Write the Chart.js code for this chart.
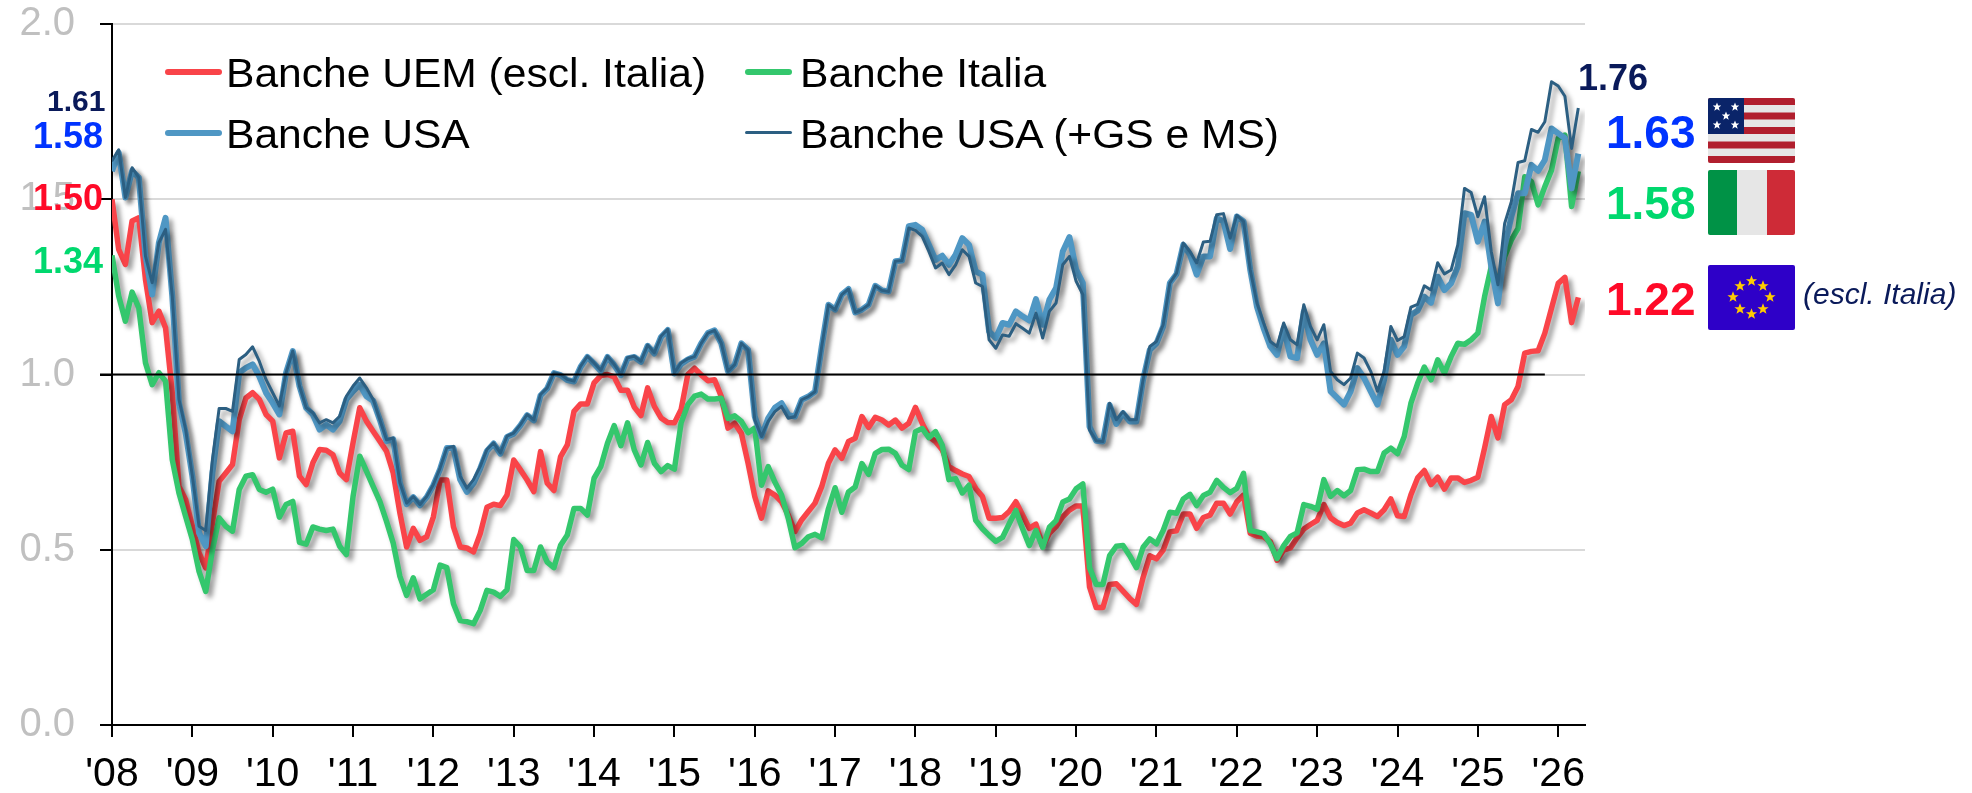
<!DOCTYPE html>
<html>
<head>
<meta charset="utf-8">
<title>Banche</title>
<script src="https://cdn.jsdelivr.net/npm/chart.js@4/dist/chart.umd.min.js"></script>
<style>
  body { margin: 0; background: #fff; font-family: "Liberation Sans", Arial, sans-serif; }
  #wrap { position: relative; width: 1972px; height: 793px; overflow: hidden; }
  #chart { position: absolute; left: 0; top: 0; }
  .leg { position: absolute; font-size: 40px; line-height: 44px; color: #000; white-space: nowrap; transform: scaleX(1.064); transform-origin: left top; }
  .swatch { position: absolute; border-radius: 3px; }
  .val { position: absolute; font-weight: bold; line-height: 1; white-space: nowrap; }
  .flag { position: absolute; left: 1708px; width: 87px; height: 65px; border-radius: 2px; }
  #note { position: absolute; left: 1803px; top: 276px; font-size: 30px; line-height: 36px; font-style: italic; color: #0a1a5a; white-space: nowrap; }
</style>
</head>
<body>
<div id="wrap">
  <canvas id="chart" width="1972" height="793"></canvas>

  <div class="swatch" style="left:165px;top:69px;width:57px;height:6px;background:#f94449"></div>
  <div class="leg" style="left:226px;top:51px">Banche UEM (escl. Italia)</div>
  <div class="swatch" style="left:745px;top:69px;width:47px;height:6px;background:#34c76d"></div>
  <div class="leg" style="left:800px;top:51px">Banche Italia</div>
  <div class="swatch" style="left:165px;top:130px;width:57px;height:6px;background:#4f97c4"></div>
  <div class="leg" style="left:226px;top:112px">Banche USA</div>
  <div class="swatch" style="left:745px;top:131px;width:47px;height:3px;background:#2c5f82"></div>
  <div class="leg" style="left:800px;top:112px">Banche USA (+GS e MS)</div>

  <div id="startLabels"></div>
  <div id="endLabels"></div>

  <svg class="flag" style="top:98px" viewBox="0 0 87 65">
    <rect width="87" height="65" fill="#e6e6e6"/>
    <rect y="0" width="87" height="7" fill="#b11f2e"/>
    <rect y="14.5" width="87" height="7" fill="#b11f2e"/>
    <rect y="29" width="87" height="7" fill="#b11f2e"/>
    <rect y="43.5" width="87" height="7" fill="#b11f2e"/>
    <rect y="58" width="87" height="7" fill="#b11f2e"/>
    <rect width="36" height="36" fill="#0a2469"/>
    <defs><polygon id="star" points="0,-4.5 1.2,-1.4 4.3,-1.4 1.8,0.6 2.7,3.7 0,1.9 -2.7,3.7 -1.8,0.6 -4.3,-1.4 -1.2,-1.4"/></defs>
    <g fill="#fff">
      <use href="#star" x="9" y="9"/><use href="#star" x="27" y="9"/><use href="#star" x="18" y="18"/>
      <use href="#star" x="9" y="27"/><use href="#star" x="27" y="27"/>
    </g>
  </svg>
  <svg class="flag" style="top:170px" viewBox="0 0 87 65">
    <rect width="29" height="65" fill="#009246"/>
    <rect x="29" width="30" height="65" fill="#e6e6e6"/>
    <rect x="59" width="28" height="65" fill="#ce2b37"/>
  </svg>
  <svg class="flag" style="top:265px" viewBox="0 0 87 65">
    <rect width="87" height="65" fill="#2e00c8"/>
    <g fill="#ffcc00">
      <use href="#star" transform="translate(43.5,16) scale(1.3)"/><use href="#star" transform="translate(55,21) scale(1.3)"/>
      <use href="#star" transform="translate(62,32) scale(1.3)"/><use href="#star" transform="translate(55,44) scale(1.3)"/>
      <use href="#star" transform="translate(43.5,49) scale(1.3)"/><use href="#star" transform="translate(32,44) scale(1.3)"/>
      <use href="#star" transform="translate(25,32) scale(1.3)"/><use href="#star" transform="translate(32,21) scale(1.3)"/>
    </g>
  </svg>
  <div id="note">(escl. Italia)</div>
</div>

<script>
const yearLabels = ["'08","'09","'10","'11","'12","'13","'14","'15","'16","'17","'18","'19","'20","'21","'22","'23","'24","'25","'26"];

// one row per year, monthly from Jan 2008
const bancheUem = [
  1.50,1.357,1.314,1.438,1.447,1.271,1.148,1.181,1.133,.948,.681,.643,
  .567,.491,.448,.576,.695,.719,.743,.871,.933,.948,.929,.886,
  .867,.762,.833,.838,.71,.686,.748,.786,.784,.771,.719,.70,
  .805,.905,.867,.838,.81,.781,.719,.605,.508,.561,.527,.537,
  .594,.699,.699,.565,.508,.505,.494,.546,.621,.63,.626,.656,
  .756,.728,.699,.666,.78,.69,.669,.766,.799,.895,.916,.916,
  .976,.997,1.0,.993,.955,.955,.907,.883,.962,.909,.876,.863,
  .862,.90,1.0,1.018,.999,.982,.985,.937,.847,.861,.832,.747,
  .652,.59,.668,.656,.637,.599,.552,.585,.609,.633,.68,.747,
  .785,.761,.809,.818,.88,.849,.878,.87,.856,.87,.847,.861,
  .906,.861,.823,.809,.785,.737,.726,.716,.709,.675,.652,.59,
  .59,.592,.609,.637,.599,.561,.573,.509,.547,.566,.594,.613,
  .625,.625,.394,.335,.335,.401,.403,.382,.361,.344,.421,.483,
  .474,.499,.551,.554,.602,.602,.561,.592,.599,.633,.633,.602,
  .637,.656,.547,.539,.537,.523,.47,.499,.505,.534,.559,.572,
  .584,.629,.591,.578,.569,.576,.605,.614,.605,.595,.614,.645,
  .597,.595,.657,.705,.726,.686,.707,.673,.705,.705,.692,.698,
  .707,.79,.88,.819,.914,.928,.966,1.061,1.066,1.068,1.118,1.189,
  1.26,1.277,1.148,1.22
];

const bancheItalia = [
  1.34,1.224,1.152,1.235,1.19,1.033,.971,1.005,.981,.757,.662,.595,
  .529,.438,.381,.50,.591,.567,.553,.672,.71,.714,.672,.664,
  .673,.593,.629,.638,.521,.516,.565,.559,.555,.559,.51,.486,
  .652,.767,.724,.681,.638,.581,.519,.424,.37,.42,.36,.373,
  .386,.456,.449,.346,.298,.295,.289,.327,.384,.379,.367,.386,
  .529,.508,.441,.441,.508,.465,.449,.513,.542,.618,.618,.599,
  .704,.737,.804,.854,.797,.862,.785,.742,.806,.747,.723,.74,
  .73,.862,.914,.938,.944,.93,.93,.932,.875,.882,.866,.834,
  .847,.684,.737,.693,.656,.59,.506,.518,.537,.544,.534,.617,
  .677,.607,.665,.679,.746,.715,.775,.786,.787,.775,.741,.729,
  .837,.846,.82,.837,.798,.70,.703,.662,.684,.584,.56,.541,
  .524,.535,.574,.612,.56,.512,.555,.507,.564,.583,.636,.645,
  .674,.688,.449,.401,.401,.483,.51,.512,.483,.449,.507,.531,
  .517,.555,.607,.604,.645,.658,.626,.655,.664,.698,.678,.663,
  .675,.718,.555,.551,.546,.517,.475,.512,.538,.548,.629,.624,
  .616,.70,.652,.669,.654,.669,.728,.73,.723,.723,.776,.79,
  .774,.823,.918,.975,1.021,.985,1.042,1.004,1.051,1.089,1.086,1.099,
  1.118,1.222,1.308,1.26,1.336,1.384,1.417,1.564,1.55,1.484,1.536,1.583,
  1.674,1.683,1.479,1.58
];

const bancheUsa = [
  1.58,1.633,1.505,1.581,1.562,1.338,1.228,1.376,1.447,1.224,.919,.833,
  .71,.548,.51,.719,.867,.852,.838,1.005,1.019,1.029,.995,.948,
  .919,.886,1.005,1.067,.967,.905,.886,.843,.857,.843,.867,.929,
  .952,.971,.938,.925,.871,.81,.815,.69,.63,.65,.627,.65,
  .684,.73,.79,.79,.70,.665,.69,.732,.782,.803,.774,.822,
  .831,.855,.884,.869,.94,.96,1.004,.998,.984,.98,1.022,1.05,
  1.031,1.01,1.05,1.027,.998,1.046,1.05,1.036,1.082,1.06,1.107,1.127,
  1.003,1.03,1.043,1.051,1.089,1.118,1.126,1.089,1.009,1.028,1.089,1.07,
  .88,.823,.875,.905,.918,.885,.88,.928,.937,.951,1.08,1.199,
  1.185,1.228,1.244,1.177,1.185,1.199,1.253,1.24,1.237,1.323,1.325,1.423,
  1.427,1.413,1.37,1.327,1.339,1.313,1.342,1.389,1.37,1.294,1.285,1.123,
  1.104,1.147,1.142,1.18,1.166,1.154,1.215,1.142,1.213,1.247,1.351,1.392,
  1.299,1.261,.851,.811,.809,.913,.859,.89,.866,.866,.985,1.07,
  1.089,1.137,1.261,1.287,1.37,1.342,1.285,1.337,1.337,1.446,1.437,1.358,
  1.451,1.437,1.299,1.194,1.132,1.08,1.056,1.132,1.051,1.047,1.18,1.099,
  1.056,1.089,.952,.933,.914,.952,1.018,.99,.952,.914,.985,1.099,
  1.056,1.08,1.17,1.182,1.222,1.205,1.279,1.241,1.26,1.308,1.46,1.455,
  1.379,1.436,1.308,1.203,1.365,1.45,1.517,1.517,1.598,1.581,1.612,1.702,
  1.688,1.674,1.531,1.63
];

const bancheUsaGsMs = [
  1.61,1.641,1.505,1.59,1.562,1.338,1.262,1.376,1.414,1.224,.929,.843,
  .71,.567,.555,.757,.903,.903,.895,1.043,1.057,1.079,1.038,.986,
  .948,.91,1.005,1.067,.967,.905,.891,.862,.871,.862,.881,.938,
  .967,.99,.962,.929,.871,.814,.819,.691,.633,.652,.629,.652,
  .686,.733,.79,.795,.71,.676,.70,.738,.786,.805,.776,.824,
  .833,.857,.886,.871,.943,.962,1.005,1.0,.986,.981,1.024,1.052,
  1.033,1.012,1.052,1.029,1.0,1.048,1.052,1.038,1.084,1.062,1.109,1.129,
  1.005,1.033,1.045,1.051,1.089,1.118,1.126,1.089,1.009,1.028,1.089,1.07,
  .871,.823,.866,.894,.909,.875,.88,.928,.937,.951,1.08,1.199,
  1.185,1.228,1.244,1.177,1.185,1.199,1.253,1.24,1.237,1.323,1.325,1.418,
  1.411,1.394,1.351,1.304,1.318,1.285,1.313,1.356,1.337,1.261,1.251,1.099,
  1.075,1.113,1.109,1.145,1.132,1.118,1.175,1.104,1.18,1.204,1.313,1.337,
  1.266,1.228,.842,.811,.809,.918,.871,.894,.871,.871,.985,1.08,
  1.094,1.142,1.261,1.289,1.375,1.351,1.318,1.378,1.38,1.456,1.459,1.389,
  1.454,1.437,1.299,1.204,1.147,1.094,1.08,1.147,1.099,1.085,1.199,1.137,
  1.099,1.142,1.009,.985,.971,.99,1.061,1.047,1.009,.952,1.009,1.137,
  1.097,1.108,1.192,1.20,1.253,1.241,1.319,1.287,1.298,1.37,1.531,1.519,
  1.45,1.507,1.351,1.256,1.431,1.493,1.605,1.61,1.699,1.691,1.721,1.835,
  1.823,1.794,1.645,1.76
];

// value labels next to the line ends
const startValues = ["1.61","1.58","1.50","1.34"];
const endValues = ["1.76","1.63","1.58","1.22"];
const lastMonth = 220;
const oneLineEnd = 214;

function addLabels(id, values, places) {
  const box = document.getElementById(id);
  values.forEach((text, i) => {
    const el = document.createElement('div');
    el.className = 'val';
    el.textContent = text;
    el.style.left = places[i].left + 'px';
    el.style.top = places[i].top + 'px';
    el.style.fontSize = places[i].size + 'px';
    el.style.color = places[i].color;
    box.appendChild(el);
  });
}

addLabels('startLabels', startValues, [
  {left: 47, top: 86, size: 30, color: '#0a1a5a'},
  {left: 33, top: 118, size: 36, color: '#0033ff'},
  {left: 33, top: 180, size: 36, color: '#ff0a28'},
  {left: 33, top: 243, size: 36, color: '#00d86e'}
]);
addLabels('endLabels', endValues, [
  {left: 1578, top: 60, size: 36, color: '#0a1a5a'},
  {left: 1606, top: 109, size: 46, color: '#0033ff'},
  {left: 1606, top: 180, size: 46, color: '#00d86e'},
  {left: 1606, top: 276, size: 46, color: '#ff0a28'}
]);

// soft shadow under every line
const lineShadow = {
  id: 'lineShadow',
  beforeDatasetDraw(chart) {
    const ctx = chart.ctx;
    ctx.save();
    ctx.shadowColor = 'rgba(0,0,0,0.4)';
    ctx.shadowBlur = 5;
    ctx.shadowOffsetX = 4;
    ctx.shadowOffsetY = 4;
  },
  afterDatasetDraw(chart) {
    chart.ctx.restore();
  }
};

// black line at 1.0, it starts on the axis tick and stops before the last months
const oneLine = {
  id: 'oneLine',
  afterDatasetsDraw(chart) {
    const ctx = chart.ctx;
    const y = chart.scales.y.getPixelForValue(1);
    ctx.save();
    ctx.strokeStyle = '#000';
    ctx.lineWidth = 2;
    ctx.beginPath();
    ctx.moveTo(chart.chartArea.left - 12, y);
    ctx.lineTo(chart.scales.x.getPixelForValue(oneLineEnd), y);
    ctx.stroke();
    ctx.restore();
  }
};

function lineSet(label, data, color, width, order) {
  return {
    label: label,
    data: data,
    borderColor: color,
    borderWidth: width,
    borderJoinStyle: 'round',
    pointRadius: 0,
    tension: 0,
    order: order
  };
}

new Chart(document.getElementById('chart'), {
  type: 'line',
  data: {
    labels: bancheUem.map((v, i) => i),
    datasets: [
      lineSet('Banche UEM (escl. Italia)', bancheUem, '#f94449', 5.5, 4),
      lineSet('Banche Italia', bancheItalia, '#34c76d', 5.5, 3),
      lineSet('Banche USA', bancheUsa, '#4f97c4', 6, 2),
      lineSet('Banche USA (+GS e MS)', bancheUsaGsMs, '#2c5f82', 3, 1)
    ]
  },
  options: {
    responsive: false,
    animation: false,
    plugins: { legend: { display: false }, tooltip: { enabled: false } },
    layout: { padding: { top: 24, right: 387, bottom: 0, left: 0 } },
    scales: {
      x: {
        type: 'linear',
        min: 0,
        max: lastMonth,
        afterFit: (scale) => { scale.height = 68; },
        grid: { drawOnChartArea: false, color: '#000', lineWidth: 2, tickLength: 12 },
        border: { color: '#000', width: 2 },
        ticks: {
          stepSize: 12,
          includeBounds: false,
          autoSkip: false,
          maxRotation: 0,
          padding: 13,
          color: '#000',
          font: { family: '"Liberation Sans"', size: 41 },
          callback: (v) => yearLabels[v / 12]
        }
      },
      y: {
        min: 0,
        max: 2,
        // no extra room for the half height of the top label
        afterFit: (scale) => { scale.width = 112; scale.paddingTop = 0; scale.paddingBottom = 0; },
        grid: { color: '#d9d9d9', lineWidth: 2, tickColor: '#000', tickWidth: 2, tickLength: 12 },
        border: { color: '#000', width: 2 },
        ticks: {
          stepSize: 0.5,
          padding: 25,
          color: '#c0c0c0',
          font: { family: '"Liberation Sans"', size: 40 },
          callback: (v) => v.toFixed(1)
        }
      }
    }
  },
  plugins: [lineShadow, oneLine]
});
</script>
</body>
</html>
